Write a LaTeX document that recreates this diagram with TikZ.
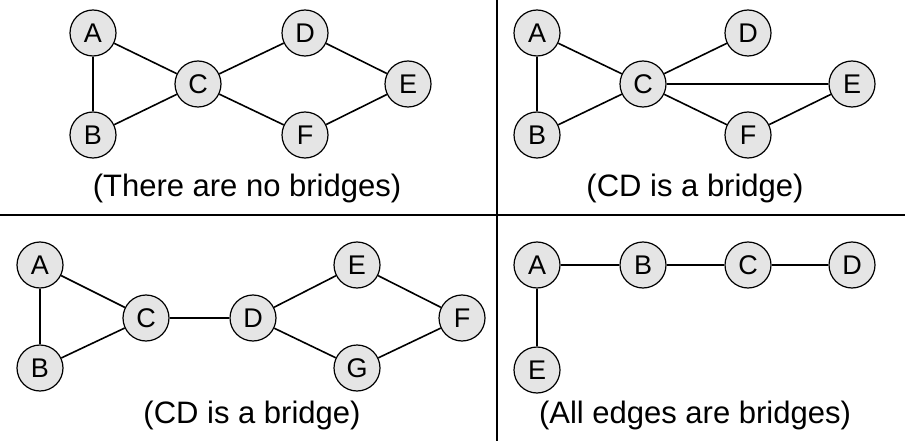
\documentclass[tikz,border=0pt]{standalone}
\usepackage{fontspec}
\setmainfont{Liberation Sans}
\begin{document}
\begin{tikzpicture}[x=1pt,y=-1pt,
  vertex/.style={circle,draw=black,fill=gray!20,line width=1.2pt,minimum size=46pt,inner sep=0pt,font=\fontsize{27}{27}\selectfont},
  edge/.style={line width=1.6pt},
  caption/.style={font=\fontsize{31}{31}\selectfont}]
\useasboundingbox (0,0) rectangle (905,441);
% dividers
\coordinate (hl) at (0,215);
\coordinate (hr) at (905,215);
\coordinate (vt) at (497,0);
\coordinate (vb) at (497,441);
\draw[edge] (hl) -- (hr);
\draw[edge] (vt) -- (vb);
% top left
\foreach \n/\x/\y in {A/93/33,B/93/135,C/198/84,D/305/33,E/408/84,F/305/135}
  \node[vertex] (a\n) at (\x,\y) {\n};
\foreach \u/\v in {A/B,A/C,B/C,C/D,C/F,D/E,F/E}
  \draw[edge] (a\u) -- (a\v);
\node[caption] (acap) at (247,188) {(There are no bridges)};
% top right
\foreach \n/\x/\y in {A/537/33,B/537/135,C/643/84,D/748/33,E/852/84,F/748/135}
  \node[vertex] (b\n) at (\x,\y) {\n};
\foreach \u/\v in {A/B,A/C,B/C,C/D,C/E,C/F,F/E}
  \draw[edge] (b\u) -- (b\v);
\node[caption] (bcap) at (695,188) {(CD is a bridge)};
% bottom left
\foreach \n/\x/\y in {A/40/265,B/40/368,C/146/318,D/253/318,E/357/265,F/462/318,G/357/368}
  \node[vertex] (c\n) at (\x,\y) {\n};
\foreach \u/\v in {A/B,A/C,B/C,C/D,D/E,D/G,E/F,G/F}
  \draw[edge] (c\u) -- (c\v);
\node[caption] (ccap) at (252,415) {(CD is a bridge)};
% bottom right
\foreach \n/\x/\y in {A/537/265,B/643/265,C/748/265,D/852/265,E/537/370}
  \node[vertex] (d\n) at (\x,\y) {\n};
\foreach \u/\v in {A/B,B/C,C/D,A/E}
  \draw[edge] (d\u) -- (d\v);
\node[caption] (dcap) at (695,415) {(All edges are bridges)};
\end{tikzpicture}
\end{document}
